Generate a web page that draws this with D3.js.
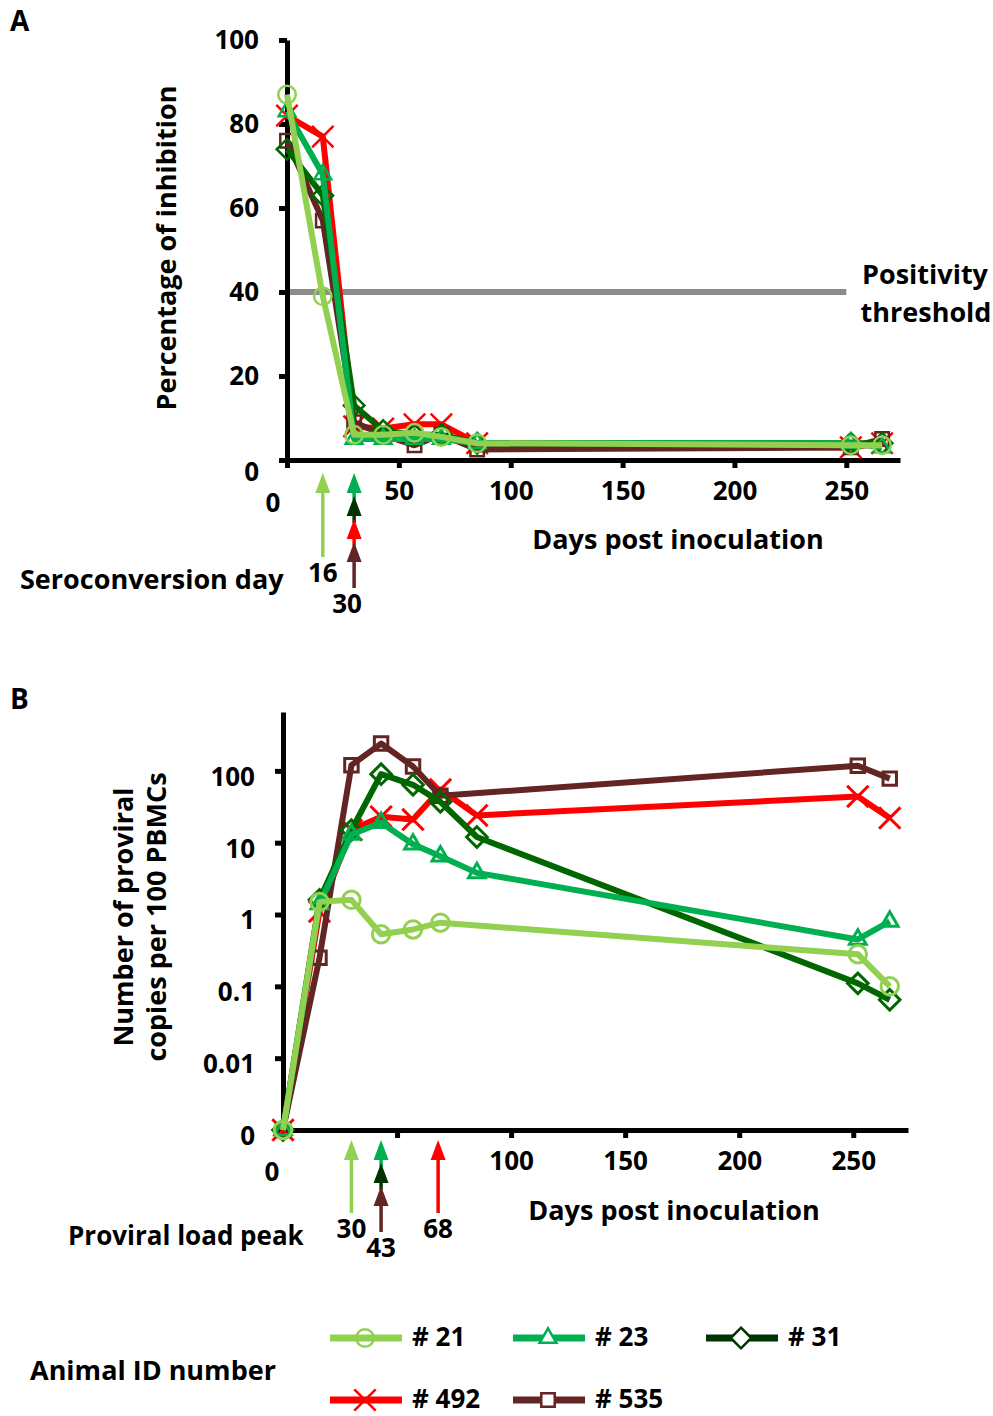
<!DOCTYPE html>
<html>
<head>
<meta charset="utf-8">
<script src="https://cdn.jsdelivr.net/npm/d3@7"></script>
<style>
body { margin: 0; background: #fff; }
text { font-family: 'Open Sans', Lato, sans-serif; font-weight: bold; fill: #000; }
</style>
</head>
<body>
<svg width="993" height="1416"></svg>
<script>
// Data
var days = [0, 16, 30, 43, 57, 69, 85, 252, 266];
var animals = ['# 21', '# 23', '# 31', '# 492', '# 535'];

// Panel A: percentage of inhibition
var inhibition21 = [87, 39, 6, 6, 6.5, 5.5, 4, 3.5, 3.5];
var inhibition23 = [83, 68, 5, 5, 5, 5, 4, 4, 3];
var inhibition31 = [74, 63, 13, 7, 6, 6, 4, 4, 4];
var inhibition492 = [82, 77, 8, 7.5, 8.5, 8.5, 4, 3, 4];
var inhibition535 = [76, 57, 9, 6, 3.5, 6, 2.5, 3, 5];
var threshold = 40;

// Panel B: proviral copies per 100 PBMCs (0 drawn at 0.001)
var proviral21 = [0.001, 1.5, 1.6, 0.53, 0.62, 0.77, null, 0.28, 0.1];
var proviral23 = [0.001, 1.4, 13, 19, 9.5, 6.5, 3.8, 0.45, 0.8];
var proviral31 = [0.001, 1.6, 15, 90, 64, 37, 12, 0.11, 0.065];
var proviral492 = [0.001, 1.1, 15, 23, 21, 55, 24, 44, 22];
var proviral535 = [0.001, 0.25, 120, 240, 115, 45, null, 118, 78];

var seroconversionDays = [16, 30, 30, 30, 30];
var peakDays = [30, 43, 43, 68, 43];

var xTicks = [0, 50, 100, 150, 200, 250];
var yTicksA = [0, 20, 40, 60, 80, 100];
var yTicksB = [0.001, 0.01, 0.1, 1, 10, 100];
var yLabelsB = ['0', '0.01', '0.1', '1', '10', '100'];

// Styles
var colors = ['#92d050', '#00b050', '#006600', '#ff0000', '#632523'];
var legendColors = ['#92d050', '#00b050', '#003300', '#ff0000', '#632523'];
var symbols = [d3.symbolCircle, d3.symbolTriangle2, d3.symbolDiamond2, d3.symbolTimes, d3.symbolSquare2];
var symbolSizes = [240, 200, 270, 300, 230];
var drawOrder = [3, 4, 2, 1, 0];
var labelSize = '27px', tickSize = '26px';

var inhibition = [inhibition21, inhibition23, inhibition31, inhibition492, inhibition535];
var proviral = [proviral21, proviral23, proviral31, proviral492, proviral535];

var svg = d3.select('svg');

// Scales
var xA = d3.scaleLinear().domain([0, 274]).range([287, 900]);
var yA = d3.scaleLinear().domain([0, 100]).range([460, 40]);
var xB = d3.scaleLinear().domain([0, 274]).range([283, 908]);
var yB = d3.scaleLog().domain([0.001, 660]).range([1130, 712]);

function styleAxis(g) {
  g.select('.domain').attr('stroke', '#000').attr('stroke-width', 5);
  g.selectAll('.tick line').attr('stroke', '#000').attr('stroke-width', 5);
  g.selectAll('.tick text').style('font-size', tickSize);
}

function points(values, x, y) {
  return days.map((d, i) => ({day: d, v: values[i]}))
    .filter(p => p.v != null)
    .map(p => [x(p.day), y(p.v)]);
}

function drawSeries(g, data, x, y, markerStroke) {
  var line = d3.line();
  drawOrder.forEach(k => {
    var pts = points(data[k], x, y);
    g.append('path')
      .attr('d', line(pts))
      .attr('fill', 'none')
      .attr('stroke', colors[k])
      .attr('stroke-width', 6)
      .attr('stroke-linejoin', 'round');
    g.selectAll(null)
      .data(pts).enter()
      .append('path')
      .attr('d', d3.symbol().type(symbols[k]).size(symbolSizes[k]))
      .attr('transform', d => 'translate(' + d[0] + ',' + d[1] + ')')
      .attr('fill', 'none')
      .attr('stroke', colors[k])
      .attr('stroke-width', markerStroke);
  });
}

// Arrows stacked per day, top to bottom in animal order
function drawArrows(g, dayList, x, top, minLen, labelDx) {
  var groups = d3.group(dayList.map((d, i) => ({day: d, k: i})), d => d.day);
  groups.forEach((list, day) => {
    var ax = x(day);
    var n = list.length;
    var bottom = top + Math.max(minLen, (n - 1) * 23 + 46);
    list.forEach((a, j) => {
      var headTop = top + j * 23;
      var shaftEnd = j == n - 1 ? bottom : top + (j + 1) * 23 + 4;
      g.append('line')
        .attr('x1', ax).attr('x2', ax)
        .attr('y1', headTop + 10).attr('y2', shaftEnd)
        .attr('stroke', legendColors[a.k]).attr('stroke-width', 3.5);
      g.append('path')
        .attr('d', 'M' + ax + ',' + headTop + 'L' + (ax - 7.5) + ',' + (headTop + 20) + 'L' + (ax + 7.5) + ',' + (headTop + 20) + 'Z')
        .attr('fill', legendColors[a.k]);
    });
    g.append('text')
      .attr('x', ax + (n > 1 ? labelDx : 0))
      .attr('y', bottom + 25)
      .attr('text-anchor', 'middle')
      .style('font-size', tickSize)
      .text(day);
  });
}

/* PANEL A */
var a = svg.append('g');
a.append('text').attr('x', 10).attr('y', 31).style('font-size', '28px').text('A');

a.append('line')
  .attr('x1', xA(0)).attr('x2', xA(250))
  .attr('y1', yA(threshold)).attr('y2', yA(threshold))
  .attr('stroke', '#8c8c8c').attr('stroke-width', 6);

var axA = a.append('g').attr('transform', 'translate(0,' + yA(0) + ')')
  .call(d3.axisBottom(xA).tickValues(xTicks).tickSize(8).tickSizeOuter(0).tickPadding(14)
    .tickFormat(d => d == 0 ? '' : d));
styleAxis(axA);
var ayA = a.append('g').attr('transform', 'translate(' + xA(0) + ',0)')
  .call(d3.axisLeft(yA).tickValues(yTicksA).tickSize(8).tickSizeOuter(0).tickPadding(20));
styleAxis(ayA);
ayA.selectAll('.tick text').filter(d => d == 0).attr('dy', '0.8em');
a.append('text').attr('x', 273).attr('y', 512).attr('text-anchor', 'middle').style('font-size', tickSize).text('0');

drawSeries(a, inhibition, xA, yA, 2.5);

a.append('text').attr('transform', 'translate(176,248) rotate(-90)')
  .attr('text-anchor', 'middle').style('font-size', labelSize).text('Percentage of inhibition');
a.append('text').attr('x', 678).attr('y', 549).attr('text-anchor', 'middle')
  .style('font-size', labelSize).text('Days post inoculation');
a.append('text').attr('x', 925).attr('y', 284).attr('text-anchor', 'middle')
  .style('font-size', labelSize).text('Positivity');
a.append('text').attr('x', 926).attr('y', 322).attr('text-anchor', 'middle')
  .style('font-size', labelSize).text('threshold');
a.append('text').attr('x', 20).attr('y', 589).style('font-size', labelSize).text('Seroconversion day');

drawArrows(a, seroconversionDays, xA, 473, 84, -7);

/* PANEL B */
var b = svg.append('g');
b.append('text').attr('x', 10).attr('y', 709).style('font-size', '28px').text('B');

var axB = b.append('g').attr('transform', 'translate(0,' + yB(0.001) + ')')
  .call(d3.axisBottom(xB).tickValues(xTicks).tickSize(8).tickSizeOuter(0).tickPadding(14)
    .tickFormat(d => (d == 0 || d == 50) ? '' : d));
styleAxis(axB);
var ayB = b.append('g').attr('transform', 'translate(' + xB(0) + ',0)')
  .call(d3.axisLeft(yB).tickValues(yTicksB).tickSize(8).tickSizeOuter(0).tickPadding(20)
    .tickFormat((d, i) => yLabelsB[i]));
styleAxis(ayB);
ayB.selectAll('.tick text').attr('dy', '0.55em');
b.append('text').attr('x', 272).attr('y', 1181).attr('text-anchor', 'middle').style('font-size', tickSize).text('0');

drawSeries(b, proviral, xB, yB, 3);

b.append('text').attr('transform', 'translate(133,917) rotate(-90)')
  .attr('text-anchor', 'middle').style('font-size', labelSize).text('Number of proviral');
b.append('text').attr('transform', 'translate(166,917) rotate(-90)')
  .attr('text-anchor', 'middle').style('font-size', labelSize).text('copies per 100 PBMCs');
b.append('text').attr('x', 674).attr('y', 1220).attr('text-anchor', 'middle')
  .style('font-size', labelSize).text('Days post inoculation');
b.append('text').attr('x', 68).attr('y', 1245).style('font-size', '26px').text('Proviral load peak');

drawArrows(b, peakDays, xB, 1140, 73, 0);

/* LEGEND */
var lg = svg.append('g');
lg.append('text').attr('x', 30).attr('y', 1380).style('font-size', labelSize).text('Animal ID number');
var legendPos = [[330, 1338], [513, 1338], [706, 1338], [330, 1400], [513, 1400]];
animals.forEach((name, k) => {
  var p = legendPos[k];
  lg.append('line')
    .attr('x1', p[0]).attr('x2', p[0] + 72)
    .attr('y1', p[1]).attr('y2', p[1])
    .attr('stroke', legendColors[k]).attr('stroke-width', 7);
  lg.append('path')
    .attr('d', d3.symbol().type(symbols[k]).size(symbolSizes[k]))
    .attr('transform', 'translate(' + (p[0] + 35) + ',' + p[1] + ')')
    .attr('fill', k == 0 ? 'none' : '#fff')
    .attr('stroke', k == 2 ? '#003300' : colors[k])
    .attr('stroke-width', 2.5);
  lg.append('text')
    .attr('x', p[0] + 82).attr('y', p[1] + 8)
    .style('font-size', '26px')
    .text(name);
});
</script>
</body>
</html>
